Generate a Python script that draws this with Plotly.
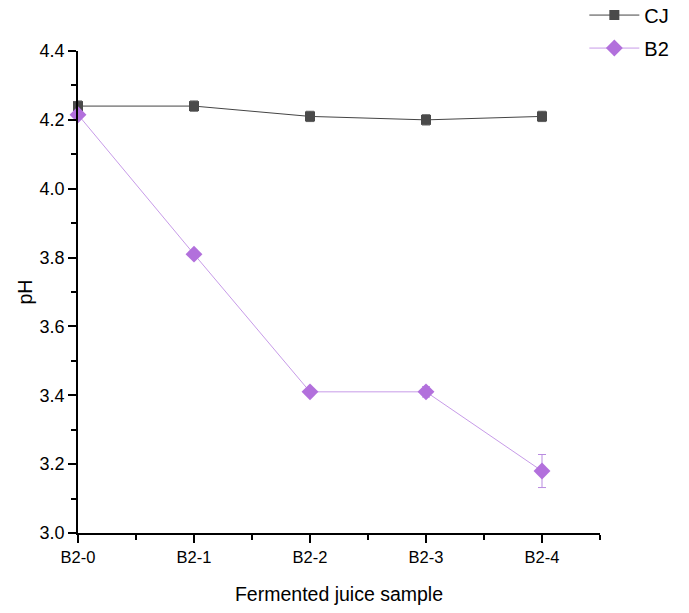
import plotly.graph_objects as go

categories = ["B2-0", "B2-1", "B2-2", "B2-3", "B2-4"]
cj_values = [4.24, 4.24, 4.21, 4.20, 4.21]
cj_err = [0.015, 0.015, 0.015, 0.015, 0.015]
b2_values = [4.215, 3.81, 3.41, 3.41, 3.18]
b2_err = [0.005, 0.005, 0.005, 0.015, 0.048]
y_ticks = [3.0, 3.2, 3.4, 3.6, 3.8, 4.0, 4.2, 4.4]

xpos = list(range(len(categories)))

fig = go.Figure()
fig.add_trace(go.Scatter(
    x=xpos, y=cj_values, name="CJ", mode="lines+markers", legendgroup="a",
    line=dict(color="#444444", width=1),
    marker=dict(symbol="square", size=10, color="#4a4a4a"),
    error_y=dict(type="data", array=cj_err, color="#666666", thickness=1, width=4),
    cliponaxis=False,
))
fig.add_trace(go.Scatter(
    x=xpos, y=b2_values, name="B2", mode="lines+markers", legendgroup="b",
    line=dict(color="#c79be8", width=1),
    marker=dict(symbol="diamond", size=13, color="#b270dc"),
    error_y=dict(type="data", array=b2_err, color="#b98be0", thickness=1, width=4),
    cliponaxis=False,
))

fig.update_layout(
    width=689, height=613,
    margin=dict(l=78, r=89, t=51, b=80, autoexpand=False),
    plot_bgcolor="white", paper_bgcolor="white",
    font=dict(family="Liberation Sans, Arial", size=14, color="black"),
    showlegend=True,
    legend=dict(x=0.97, y=1.115, xanchor="left", yanchor="top",
                font=dict(size=20), bgcolor="rgba(0,0,0,0)",
                tracegroupgap=4, itemwidth=50),
    xaxis=dict(
        range=[0, 4.5], tickvals=xpos, ticktext=categories,
        showline=True, linecolor="black", linewidth=1.5,
        ticks="outside", ticklen=8, tickwidth=1.5, tickcolor="black",
        minor=dict(dtick=0.5, tick0=0.5, ticks="outside", ticklen=5, tickwidth=1.5, tickcolor="black"),
        showgrid=False, zeroline=False,
        title=dict(text="Fermented juice sample", font=dict(size=19.5), standoff=23),
        tickfont=dict(size=16.5),
    ),
    yaxis=dict(
        range=[3.0, 4.4], tickvals=y_ticks, ticktext=[f"{v:.1f}" for v in y_ticks],
        showline=True, linecolor="black", linewidth=1.5,
        ticks="outside", ticklen=8, tickwidth=1.5, tickcolor="black",
        minor=dict(dtick=0.1, tick0=3.1, ticks="outside", ticklen=5, tickwidth=1.5, tickcolor="black"),
        showgrid=False, zeroline=False,
        title=dict(text="pH", font=dict(size=19.5), standoff=2),
        tickfont=dict(size=18),
    ),
)

fig.write_html("out.html")
